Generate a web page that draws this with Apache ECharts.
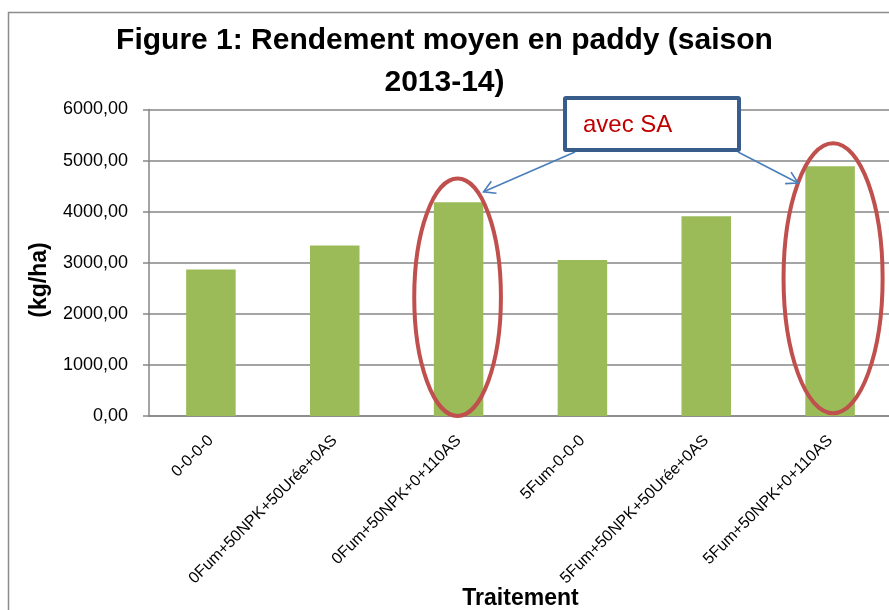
<!DOCTYPE html>
<html>
<head>
<meta charset="utf-8">
<script src="https://cdn.jsdelivr.net/npm/echarts@6/dist/echarts.min.js"></script>
<style>
html,body{margin:0;padding:0;background:#fff;}
#c{width:889px;height:610px;}
</style>
</head>
<body>
<div id="c"></div>
<script>
const categories = ['0-0-0-0', '0Fum+50NPK+50Urée+0AS', '0Fum+50NPK+0+110AS', '5Fum-0-0-0', '5Fum+50NPK+50Urée+0AS', '5Fum+50NPK+0+110AS'];
const rendement = [2870, 3340, 4185, 3055, 3910, 4890];
const yTicks = [0, 1000, 2000, 3000, 4000, 5000, 6000];
const titleText = 'Figure 1: Rendement moyen en paddy (saison\n2013-14)';
const yName = '(kg/ha)';
const xName = 'Traitement';
const noteText = 'avec SA';

const FONT = '"Liberation Sans", Arial, sans-serif';
const chart = echarts.init(document.getElementById('c'), null, {renderer: 'canvas'});

const option = {
  animation: false,
  backgroundColor: '#ffffff',
  title: {
    text: titleText,
    left: 'center',
    top: 15,
    textStyle: {fontFamily: FONT, fontWeight: 'bold', fontSize: 30, lineHeight: 42, color: '#000'}
  },
  grid: {left: 149, top: 109.5, width: 743, height: 306.5, containLabel: false, outerBoundsMode: 'none'},
  xAxis: {
    type: 'category',
    data: categories,
    axisLine: {show: true, lineStyle: {color: '#868686', width: 1.5}},
    axisTick: {show: false},
    axisLabel: {interval: 0, rotate: 45, margin: 22, fontFamily: FONT, fontSize: 16, color: '#000'},
    name: xName,
    nameLocation: 'middle',
    nameGap: 183,
    nameMoveOverlap: false,
    nameTextStyle: {fontFamily: FONT, fontWeight: 'bold', fontSize: 23, color: '#000', verticalAlign: 'middle'}
  },
  yAxis: {
    type: 'value',
    min: yTicks[0],
    max: yTicks[yTicks.length - 1],
    interval: yTicks[1] - yTicks[0],
    axisLine: {show: true, lineStyle: {color: '#868686', width: 1.5}},
    axisTick: {show: true, length: 6, lineStyle: {color: '#868686', width: 1.5}},
    splitLine: {show: true, lineStyle: {color: '#868686', width: 1.5}},
    axisLabel: {
      margin: 21, fontFamily: FONT, fontSize: 18, color: '#000',
      formatter: v => v.toFixed(2).replace('.', ',')
    }
  },
  series: [{
    type: 'bar',
    data: rendement,
    barWidth: '40%',
    itemStyle: {color: '#9BBB59'}
  }]
};
chart.setOption(option);

// annotations anchored on the axes
const px = (i, v) => chart.convertToPixel({xAxisIndex: 0, yAxisIndex: 0}, [categories[i], v]);
const bw = px(1, 0)[0] - px(0, 0)[0];

function ellipseAt(i, vTop, vBottom, rxFrac, dx) {
  const top = px(i, vTop)[1], bot = px(i, vBottom)[1];
  return {
    type: 'ellipse', z: 100,
    shape: {cx: px(i, 0)[0] + dx, cy: (top + bot) / 2, rx: bw * rxFrac, ry: (bot - top) / 2},
    style: {fill: null, stroke: '#C0504D', lineWidth: 4}
  };
}
function arrow(x1, y1, x2, y2) {
  const ang = Math.atan2(y2 - y1, x2 - x1);
  const L = 13, a = Math.PI / 6;
  const p1 = [x2 - L * Math.cos(ang - a), y2 - L * Math.sin(ang - a)];
  const p2 = [x2 - L * Math.cos(ang + a), y2 - L * Math.sin(ang + a)];
  return [
    {type: 'line', z: 101, shape: {x1, y1, x2, y2}, style: {stroke: '#4A7EBB', lineWidth: 1.6}},
    {type: 'polyline', z: 101, shape: {points: [p1, [x2, y2], p2]}, style: {fill: null, stroke: '#4A7EBB', lineWidth: 1.6}}
  ];
}
const tipL = px(2, 4390), tipR = px(5, 4560);
const box = {x: 565, y: 98, w: 174, h: 52};

chart.setOption({
  graphic: [
    {type: 'rect', z: 1, silent: true, shape: {x: 8.5, y: 12.5, width: 1000, height: 1000},
     style: {fill: null, stroke: '#8c8c8c', lineWidth: 1.5}},
    {type: 'text', z: 50, x: 40, y: 280, rotation: Math.PI / 2,
     style: {text: yName, fontFamily: FONT, fontWeight: 'bold', fontSize: 23, fill: '#000', align: 'center', verticalAlign: 'middle'}},
    ellipseAt(2, 4650, 0, 0.35, -1),
    ellipseAt(5, 5340, 55, 0.40, 3),
    ...arrow(box.x + 10, box.y + box.h + 2, tipL[0] + 25, tipL[1]),
    ...arrow(box.x + box.w - 1, box.y + box.h + 2, tipR[0] - 32, tipR[1]),
    {type: 'rect', z: 102, shape: {x: box.x, y: box.y, width: box.w, height: box.h, r: 1},
     style: {fill: '#fff', stroke: '#385D8A', lineWidth: 4}},
    {type: 'text', z: 103, x: 583, y: 125,
     style: {text: noteText, fontFamily: FONT, fontSize: 24, fill: '#C00000', align: 'left', verticalAlign: 'middle'}}
  ]
});
</script>
</body>
</html>
